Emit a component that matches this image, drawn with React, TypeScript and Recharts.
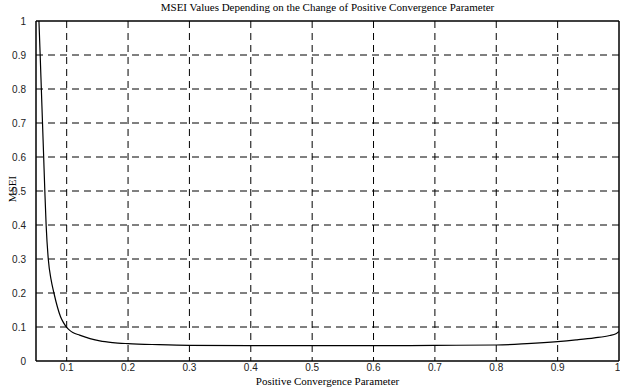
import React from 'react';
import { LineChart, Line, XAxis, YAxis, CartesianGrid, ReferenceLine } from 'recharts';

// values
const paramValues = [
  0.0548, 0.0568, 0.0587, 0.0606, 0.0625, 0.0644, 0.0665, 0.07, 0.0745, 0.0792, 0.085, 0.09,
  0.095, 0.1, 0.105, 0.11, 0.121, 0.138, 0.154, 0.175, 0.2, 0.25, 0.3, 0.4, 0.5, 0.6, 0.7,
  0.8, 0.85, 0.9, 0.93, 0.96, 0.985, 0.995, 1.0,
];
const mseiValues = [
  1.0, 0.9, 0.8, 0.7, 0.6, 0.5, 0.4, 0.3, 0.24, 0.2, 0.158, 0.13,
  0.112, 0.099, 0.09, 0.084, 0.076, 0.066, 0.059, 0.054, 0.051, 0.048, 0.046, 0.045, 0.045, 0.045, 0.046,
  0.047, 0.051, 0.057, 0.062, 0.068, 0.075, 0.08, 0.087,
];
const xTicks = [0.1, 0.2, 0.3, 0.4, 0.5, 0.6, 0.7, 0.8, 0.9, 1];
const yTicks = [0, 0.1, 0.2, 0.3, 0.4, 0.5, 0.6, 0.7, 0.8, 0.9, 1];
const gridValues = [0.1, 0.2, 0.3, 0.4, 0.5, 0.6, 0.7, 0.8, 0.9];

const data = paramValues.map((p, i) => ({ p, msei: mseiValues[i] }));

const tickStyle = { fontFamily: 'Liberation Sans, Arial, sans-serif', fontSize: 10, fill: '#222' };
const serif = 'Liberation Serif, Times New Roman, serif';

export default function App() {
  return (
    <div style={{ position: 'relative', width: 620, height: 389, background: '#fff' }}>
      <style>{'body{margin:0}'}</style>
      <div
        style={{
          position: 'absolute', top: 1, left: 36, width: 583, textAlign: 'center',
          fontFamily: serif, fontSize: 11, color: '#000',
        }}
      >
        MSEI Values Depending on the Change of Positive Convergence Parameter
      </div>
      <div
        style={{
          position: 'absolute', top: 375, left: 36, width: 583, textAlign: 'center',
          fontFamily: serif, fontSize: 11, lineHeight: '13px', color: '#000',
        }}
      >
        Positive Convergence Parameter
      </div>
      <div
        style={{
          position: 'absolute', top: 183, left: -8, width: 40, textAlign: 'center',
          fontFamily: serif, fontSize: 11, color: '#000', transform: 'rotate(-90deg)',
        }}
      >
        MSEI
      </div>
      <LineChart width={620} height={389} data={data} margin={{ top: 21, right: 1, left: 0, bottom: 0 }}>
        <CartesianGrid stroke="#000" strokeDasharray="7 5" horizontalValues={gridValues} verticalValues={gridValues} />
        <XAxis
          dataKey="p"
          type="number"
          domain={[0.05, 1]}
          ticks={xTicks}
          allowDataOverflow
          height={28}
          tickLine={false}
          tickSize={0}
          tickMargin={3}
          tick={tickStyle}
          axisLine={{ stroke: '#000', strokeWidth: 1.5 }}
        />
        <YAxis
          type="number"
          domain={[0, 1]}
          ticks={yTicks}
          allowDataOverflow
          width={36}
          tickLine={false}
          tickMargin={4}
          tick={tickStyle}
          axisLine={{ stroke: '#000', strokeWidth: 1.5 }}
        />
        <ReferenceLine y={1} stroke="#000" strokeWidth={1.5} />
        <ReferenceLine x={1} stroke="#000" strokeWidth={1.5} />
        <Line
          dataKey="msei"
          type="monotone"
          stroke="#000"
          strokeWidth={1.2}
          dot={false}
          isAnimationActive={false}
        />
      </LineChart>
    </div>
  );
}
